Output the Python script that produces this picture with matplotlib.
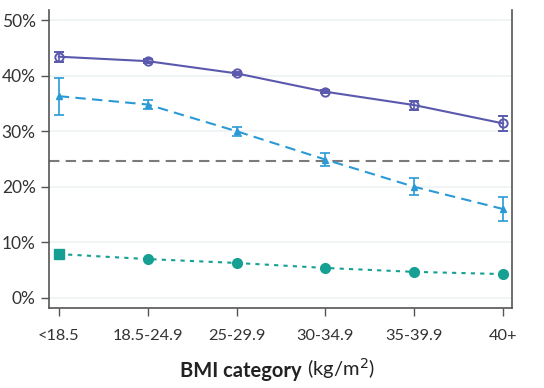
import matplotlib.pyplot as plt
import numpy as np

categories = ['<18.5', '18.5-24.9', '25-29.9', '30-34.9', '35-39.9', '40+']

# series 1: dark blue, open circles, solid line
s1 = [43.4, 42.6, 40.4, 37.1, 34.7, 31.4]
s1_lo = [42.5, 42.3, 40.1, 36.8, 33.8, 30.1]
s1_hi = [44.2, 42.9, 40.7, 37.4, 35.5, 32.7]

# series 2: light blue, triangles, dashed line
s2 = [36.3, 34.8, 30.0, 24.9, 20.0, 16.0]
s2_lo = [32.9, 34.0, 29.2, 23.8, 18.5, 13.8]
s2_hi = [39.6, 35.6, 30.8, 26.0, 21.5, 18.1]

# series 3: teal, filled circles, dotted line
s3 = [7.9, 7.0, 6.3, 5.4, 4.7, 4.3]

ref_line = 24.6
yticks = [0, 10, 20, 30, 40, 50]

plt.rcParams['font.family'] = ['Lato', 'DejaVu Sans']

fig = plt.figure(figsize=(5.44, 3.88), dpi=100)
ax = fig.add_axes([49 / 544, 1 - 308 / 388, 463 / 544, 298 / 388])

x = np.arange(len(categories))
c1 = '#5a59ad'
c2 = '#2a9ad6'
c3 = '#15a093'

for v in yticks:
    ax.axhline(v, color='#eef2f4', lw=1.2, zorder=0)

ax.axhline(ref_line, color='#7a7a7a', lw=1.5, ls=(0, (5, 3)), zorder=1)

ax.errorbar(x, s1, yerr=[np.subtract(s1, s1_lo), np.subtract(s1_hi, s1)],
            color=c1, lw=1.5, marker='o', ms=6, mfc='none', mew=1.4,
            capsize=3.5, elinewidth=1.2, capthick=1.2, zorder=3)

ax.errorbar(x, s2, yerr=[np.subtract(s2, s2_lo), np.subtract(s2_hi, s2)],
            color=c2, lw=1.5, ls=(0, (5, 3)), marker='^', ms=5,
            capsize=3.5, elinewidth=1.2, capthick=1.2, zorder=3)

ax.plot(x, s3, color=c3, lw=1.5, ls=(0, (2, 2.5)), zorder=3)
ax.plot(x[1:], s3[1:], color=c3, ls='none', marker='o', ms=7, zorder=4)
ax.plot(x[:1], s3[:1], color=c3, ls='none', marker='s', ms=7, zorder=4)

ax.set_xlim(-0.11, 5.1)
ax.set_ylim(-1.8, 51.8)
ax.set_yticks(yticks)
ax.set_yticklabels([f'{v}%' for v in yticks])
ax.set_xticks(x)
ax.set_xticklabels(categories)

ax.spines['top'].set_visible(False)
for side in ['left', 'right', 'bottom']:
    ax.spines[side].set_color('#555555')
    ax.spines[side].set_linewidth(1.2)

ax.tick_params(axis='both', colors='#333333', length=6, width=1, color='#555555')
ax.tick_params(axis='y', labelsize=12.5)
ax.tick_params(axis='x', labelsize=11.8, pad=9)

# x-axis title: bold part + regular unit part
t1 = fig.text(302 / 544, 1 - 377 / 388, 'BMI category', fontsize=14.5,
              fontweight='bold', color='#222222', ha='right', va='baseline')
ax.annotate(' (kg/m$^2$)', xy=(1, 0), xycoords=t1, xytext=(0, 0),
            textcoords='offset points', fontsize=14.5, color='#222222',
            ha='left', va='bottom')

fig.savefig('out.png', dpi=100)
